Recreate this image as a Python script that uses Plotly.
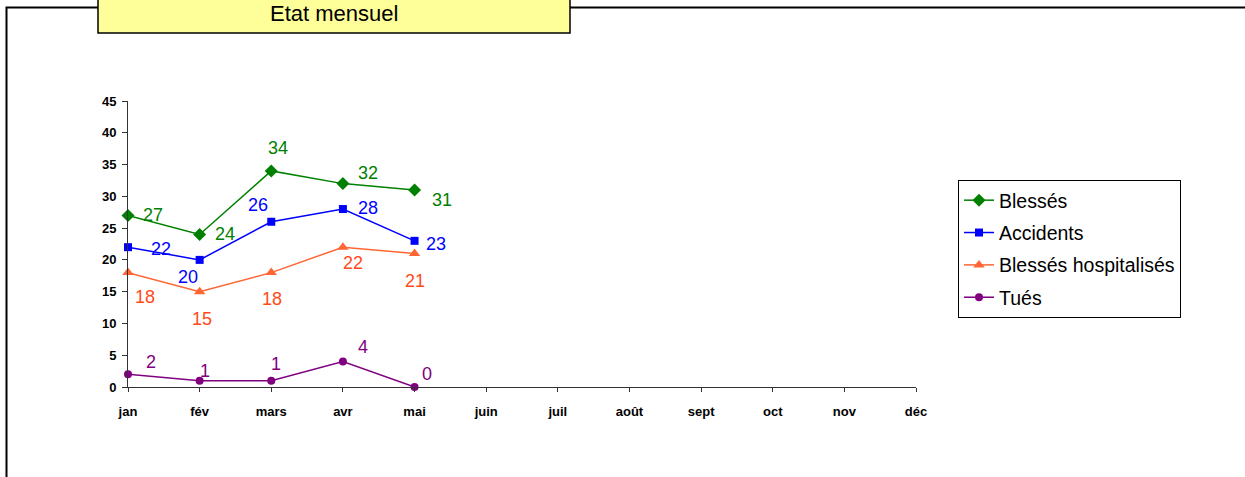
import plotly.graph_objects as go

months = ["jan", "fév", "mars", "avr", "mai", "juin", "juil", "août", "sept", "oct", "nov", "déc"]
blesses = [27, 24, 34, 32, 31]
accidents = [22, 20, 26, 28, 23]
hospitalises = [18, 15, 18, 22, 21]
tues = [2, 1, 1, 4, 0]

# label offsets in pixels (dx right, dy down) -- style only
off_blesses = [(25, 0), (25, 0), (7, -23), (25, -11), (27, 10)]
off_accidents = [(33, 2), (-12, 17), (-13, -17), (25, -1), (21, 3)]
off_hosp = [(17, 24), (2, 27), (1, 26), (10, 16), (0, 27)]
off_tues = [(23, -12), (5, -10), (5, -17), (20, -15), (12, -13)]

FONT = "Liberation Sans, Arial, sans-serif"
W, H = 1245, 477
L, R, T, B = 128, 916, 101, 387

series = [
    ("Blessés", blesses, "#008000", "diamond", 10, off_blesses, "#008000"),
    ("Accidents", accidents, "#0000FF", "square", 8, off_accidents, "#0000FF"),
    ("Blessés hospitalisés", hospitalises, "#FF6633", "triangle-up", 10, off_hosp, "#FF4A1A"),
    ("Tués", tues, "#800080", "circle", 8, off_tues, "#800080"),
]

fig = go.Figure()
annotations = []
for i, (name, vals, col, sym, msize, offs, tcol) in enumerate(series):
    xs = list(range(len(vals)))
    fig.add_trace(go.Scatter(
        x=xs, y=vals, name=name, mode="lines+markers",
        line=dict(color=col, width=1.5),
        marker=dict(symbol=sym, size=msize, color=col),
        cliponaxis=False, legendgroup=name,
    ))
    for x, v, (dx, dy) in zip(xs, vals, offs):
        annotations.append(dict(
            x=x, y=v, xref="x", yref="y", text=str(v), showarrow=False,
            xshift=dx, yshift=-dy, font=dict(family=FONT, size=18, color=tcol),
        ))

def px(xp):
    return (xp - L) / (R - L)

def py(yp):
    return (B - yp) / (B - T)

shapes = [
    # outer frame
    dict(type="rect", xref="paper", yref="paper",
         x0=px(6.5), x1=px(1260), y0=py(7.5), y1=py(490),
         line=dict(color="black", width=2), fillcolor="rgba(0,0,0,0)", layer="below"),
    # title box
    dict(type="rect", xref="paper", yref="paper",
         x0=px(98), x1=px(570), y0=py(33), y1=py(-10),
         line=dict(color="black", width=1.5), fillcolor="#FFFF99"),
]

annotations.append(dict(
    x=px(334), y=py(13), xref="paper", yref="paper", text="Etat mensuel",
    showarrow=False, font=dict(family=FONT, size=22, color="black"),
    xanchor="center", yanchor="middle",
))

fig.update_layout(
    width=W, height=H,
    margin=dict(l=L, r=W - R, t=T, b=H - B, pad=0),
    paper_bgcolor="white", plot_bgcolor="white",
    showlegend=True,
    legend=dict(
        x=px(958), y=py(180), xanchor="left", yanchor="top",
        bgcolor="white", bordercolor="black", borderwidth=1,
        font=dict(family=FONT, size=19.5, color="black"),
        tracegroupgap=4, itemwidth=30,
    ),
    shapes=shapes,
    annotations=annotations,
    font=dict(family=FONT),
)

fig.update_xaxes(
    range=[0, 11], tickmode="array", tickvals=list(range(12)), ticktext=months,
    showgrid=False, zeroline=False, showline=True, linecolor="#333333", linewidth=1,
    ticks="outside", ticklen=4, tickcolor="#333333",
    tickfont=dict(family=FONT, size=13, color="black", weight="bold"),
    ticklabelstandoff=8,
)
fig.update_yaxes(
    range=[0, 45], tickmode="array", tickvals=list(range(0, 46, 5)),
    showgrid=False, zeroline=False, showline=True, linecolor="#333333", linewidth=1,
    ticks="outside", ticklen=5, tickcolor="#333333",
    tickfont=dict(family=FONT, size=13, color="black", weight="bold"),
    ticklabelstandoff=3,
)

fig.write_html(
    "out.html",
    config={"displayModeBar": False},
    post_script="document.body.style.margin='0';document.body.style.overflow='hidden';",
)
